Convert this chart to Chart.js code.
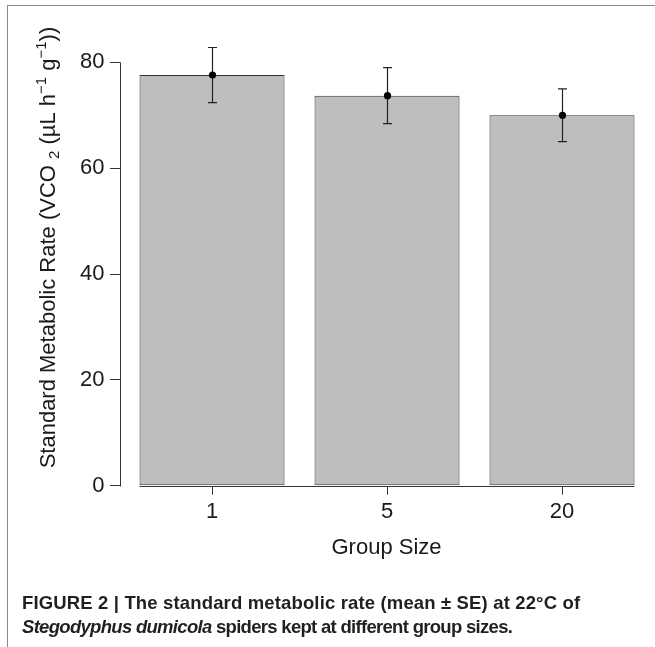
<!DOCTYPE html>
<html>
<head>
<meta charset="utf-8">
<script src="https://cdn.jsdelivr.net/npm/chart.js@4/dist/chart.umd.min.js"></script>
<style>
  html, body { margin: 0; padding: 0; background: #fff; }
  #wrap { position: relative; width: 655px; height: 647px; overflow: hidden; background: #fff; }
  #frame { position: absolute; left: 7px; top: 5px; width: 660px; height: 660px;
           border-left: 1px solid #8a8a8a; border-top: 1px solid #8a8a8a; }
  #chart { position: absolute; left: 0; top: 0; }
  .cap { position: absolute; left: 22px; font-family: "Liberation Sans", Arial, sans-serif;
         font-weight: bold; font-size: 18.5px; line-height: 22px; color: #231f20; white-space: nowrap; }
</style>
</head>
<body>
<div id="wrap">
  <div id="frame"></div>
  <canvas id="chart" width="655" height="647"></canvas>
  <div class="cap" style="top:592px; letter-spacing:0.15px">FIGURE 2 | The standard metabolic rate (mean ± SE) at 22°C of</div>
  <div class="cap" style="top:616px; letter-spacing:-0.7px"><i>Stegodyphus dumicola</i> spiders kept at different group sizes.</div>
</div>
<script>
// group sizes shown under the bars, and where each sits on the x scale
const groupSizes = ['1', '5', '20'];
const groupPos = [1, 2, 3];
// mean standard metabolic rate and its SE
const meanRate = [77.6, 73.7, 70.0];
const seRate = [5.2, 5.3, 5.0];
const yTicks = [0, 20, 40, 60, 80];
// y title pieces: [text, 'n' normal | 'sub' | 'sup']
const yTitleParts = [
  ['Standard Metabolic Rate (VCO ', 'n'], ['2', 'sub'], [' (\u00b5L h', 'n'],
  ['\u22121', 'sup'], [' g', 'n'], ['\u22121', 'sup'], ['))', 'n']
];

const FONT = '"Liberation Sans", Arial, sans-serif';
const INK = '#1a1a1a';

const errorBars = {
  id: 'errorBars',
  afterDatasetsDraw(chart) {
    const { ctx, scales: { y } } = chart;
    const bars = chart.getDatasetMeta(0).data;
    ctx.save();
    ctx.strokeStyle = '#222';
    ctx.fillStyle = '#000';
    ctx.lineWidth = 1.2;
    bars.forEach((bar, i) => {
      const x = Math.round(bar.x) + 0.5;
      const hi = y.getPixelForValue(meanRate[i] + seRate[i]);
      const lo = y.getPixelForValue(meanRate[i] - seRate[i]);
      ctx.beginPath();
      ctx.moveTo(x, hi); ctx.lineTo(x, lo);
      ctx.moveTo(x - 4.5, hi); ctx.lineTo(x + 4.5, hi);
      ctx.moveTo(x - 4.5, lo); ctx.lineTo(x + 4.5, lo);
      ctx.stroke();
      ctx.beginPath();
      ctx.arc(x, bar.y, 3.6, 0, Math.PI * 2);
      ctx.fill();
    });
    ctx.restore();
  }
};

const axisLines = {
  id: 'axisLines',
  afterDatasetsDraw(chart) {
    const { ctx, chartArea, scales: { y } } = chart;
    const bars = chart.getDatasetMeta(0).data;
    const first = bars[0], last = bars[bars.length - 1];
    const y0 = Math.round(y.getPixelForValue(0)) + 0.5;
    const ax = Math.round(chartArea.left) + 0.5;
    ctx.save();
    ctx.strokeStyle = '#333';
    ctx.lineWidth = 1;
    ctx.beginPath();
    ctx.moveTo(ax, y.getPixelForValue(yTicks[yTicks.length - 1]));
    ctx.lineTo(ax, y0);
    ctx.moveTo(first.x - first.width / 2, y0);
    ctx.lineTo(last.x + last.width / 2, y0);
    ctx.stroke();
    ctx.restore();
  }
};

const yTitle = {
  id: 'yTitle',
  afterDraw(chart) {
    const { ctx, chartArea } = chart;
    const fonts = { n: '22px ' + FONT, sub: '15px ' + FONT, sup: '15px ' + FONT };
    const shift = { n: 0, sub: 4, sup: -9 };
    let total = 0;
    const widths = yTitleParts.map(([t, k]) => {
      ctx.font = fonts[k];
      const w = ctx.measureText(t).width;
      total += w;
      return w;
    });
    ctx.save();
    ctx.translate(55, (chartArea.top + chartArea.bottom) / 2);
    ctx.rotate(-Math.PI / 2);
    ctx.fillStyle = INK;
    ctx.textBaseline = 'alphabetic';
    ctx.textAlign = 'left';
    let x = -total / 2;
    yTitleParts.forEach(([t, k], i) => {
      ctx.font = fonts[k];
      ctx.fillText(t, x, shift[k]);
      x += widths[i];
    });
    ctx.restore();
  }
};

new Chart(document.getElementById('chart'), {
  type: 'bar',
  data: {
    datasets: [{
      data: groupPos.map((x, i) => ({ x, y: meanRate[i] })),
      backgroundColor: '#bebebe',
      borderColor: '#333',
      borderWidth: 1,
      borderSkipped: false,
      barPercentage: 0.8286,
      categoryPercentage: 1
    }]
  },
  options: {
    responsive: false,
    animation: false,
    layout: { padding: { left: 0, right: 2, top: 9.4, bottom: 86.3 } },
    plugins: { legend: { display: false }, tooltip: { enabled: false } },
    scales: {
      x: {
        type: 'linear',
        offset: false,
        min: 0.474,
        max: 3.52,
        afterBuildTicks: (s) => { s.ticks = groupPos.map(v => ({ value: v })); },
        afterFit: (s) => { s.height = 75; s.paddingLeft = 0; s.paddingRight = 0; },
        border: { display: false },
        grid: { offset: false, drawOnChartArea: false, drawTicks: true, tickLength: 9, color: '#333' },
        ticks: {
          padding: 4.3,
          color: INK,
          font: { family: FONT, size: 22 },
          maxRotation: 0,
          callback: (v) => groupSizes[groupPos.indexOf(v)]
        },
        title: {
          display: true,
          text: 'Group Size',
          color: INK,
          font: { family: FONT, size: 22 },
          padding: { top: 0, bottom: 0 }
        }
      },
      y: {
        min: 0,
        max: 90,
        afterBuildTicks: (s) => { s.ticks = yTicks.map(v => ({ value: v })); },
        afterFit: (s) => { s.width = 120; s.paddingTop = 0; s.paddingBottom = 0; },
        border: { display: false },
        grid: { drawOnChartArea: false, drawTicks: true, tickLength: 10, color: '#333' },
        ticks: { padding: 5.5, color: INK, font: { family: FONT, size: 22 } }
      }
    }
  },
  plugins: [axisLines, errorBars, yTitle]
});
</script>
</body>
</html>
